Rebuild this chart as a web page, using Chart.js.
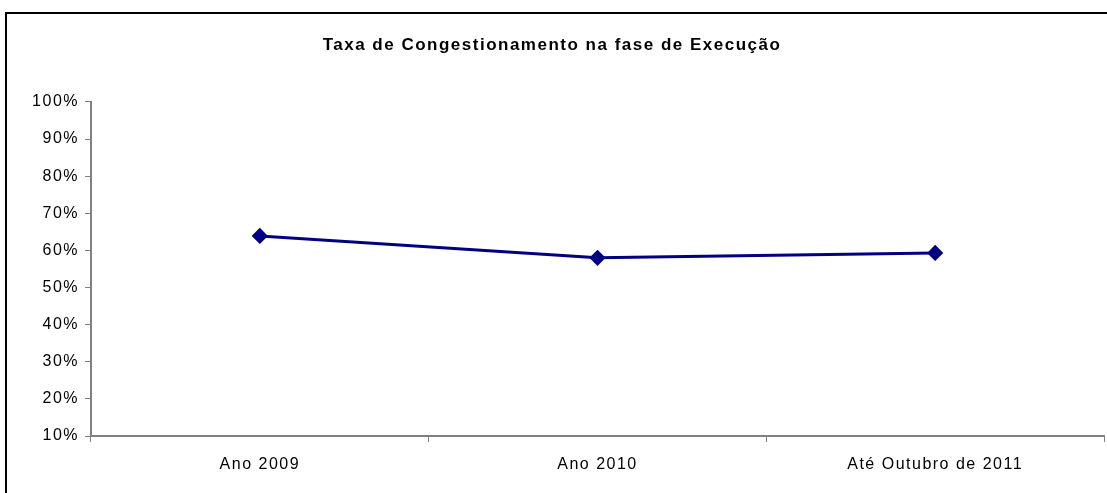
<!DOCTYPE html>
<html>
<head>
<meta charset="utf-8">
<script src="https://cdn.jsdelivr.net/npm/chart.js@4"></script>
<style>
  html, body { margin: 0; padding: 0; background: #fff; overflow: hidden; }
  #wrap { position: relative; width: 1107px; height: 493px; overflow: hidden; }
  #frame { position: absolute; left: 5px; top: 12px; width: 1200px; height: 600px;
    border-left: 2px solid #000; border-top: 2px solid #000; box-sizing: border-box; }
  canvas { position: absolute; left: 0; top: 0; }
</style>
</head>
<body>
<div id="wrap">
  <div id="frame"></div>
  <canvas id="chart" width="1107" height="493"></canvas>
</div>
<script>
// ===== DONNÉES =====
const categories = ['Ano 2009', 'Ano 2010', 'Até Outubro de 2011']
const taxaValues = [63.9, 58.0, 59.3]
const yTicks = [10, 20, 30, 40, 50, 60, 70, 80, 90, 100]
const chartTitle = 'Taxa de Congestionamento na fase de Execução'

const axisColor = '#808080'
const fontFamily = '"Liberation Sans", Arial, sans-serif'

// texte un peu étiré comme dans l'original
const spacingPlugin = {
  id: 'spacing',
  beforeLayout: (chart) => { chart.ctx.letterSpacing = '1.5px' },
  beforeDraw: (chart) => { chart.ctx.letterSpacing = '1.5px' },
}

const ctx = document.getElementById('chart')
new Chart(ctx, {
  type: 'line',
  data: {
    labels: categories,
    datasets: [
      {
        data: taxaValues,
        borderColor: '#000080',
        backgroundColor: '#000080',
        borderWidth: 3,
        pointStyle: 'rectRot',
        pointRadius: 6,
        pointHoverRadius: 6,
        tension: 0,
      },
    ],
  },
  plugins: [spacingPlugin],
  options: {
    responsive: false,
    animation: false,
    layout: { autoPadding: false, padding: { left: 0, right: 3, top: 0, bottom: 0 } },
    plugins: {
      legend: { display: false },
      tooltip: { enabled: false },
      title: {
        display: true,
        text: chartTitle,
        color: '#000',
        font: { family: fontFamily, size: 17, weight: 'bold' },
        padding: { top: 35, bottom: 46.5 },
      },
    },
    scales: {
      x: {
        offset: true,
        grid: {
          offset: true,
          drawOnChartArea: false,
          drawTicks: true,
          tickLength: 6,
          color: axisColor,
        },
        border: { color: axisColor, width: 2 },
        ticks: {
          color: '#000',
          padding: 13,
          font: { family: fontFamily, size: 16 },
          maxRotation: 0,
        },
        afterFit: (scale) => { scale.height = 57 },
      },
      y: {
        min: 10,
        max: 100,
        afterBuildTicks: (scale) => {
          scale.ticks = yTicks.map((v) => ({ value: v }))
        },
        grid: {
          drawOnChartArea: false,
          drawTicks: true,
          tickLength: 6,
          color: axisColor,
        },
        border: { color: axisColor, width: 2 },
        ticks: {
          color: '#000',
          padding: 6,
          font: { family: fontFamily, size: 16 },
          callback: (v) => v + '%',
        },
        afterFit: (scale) => { scale.width = 91 },
      },
    },
  },
})
</script>
</body>
</html>
